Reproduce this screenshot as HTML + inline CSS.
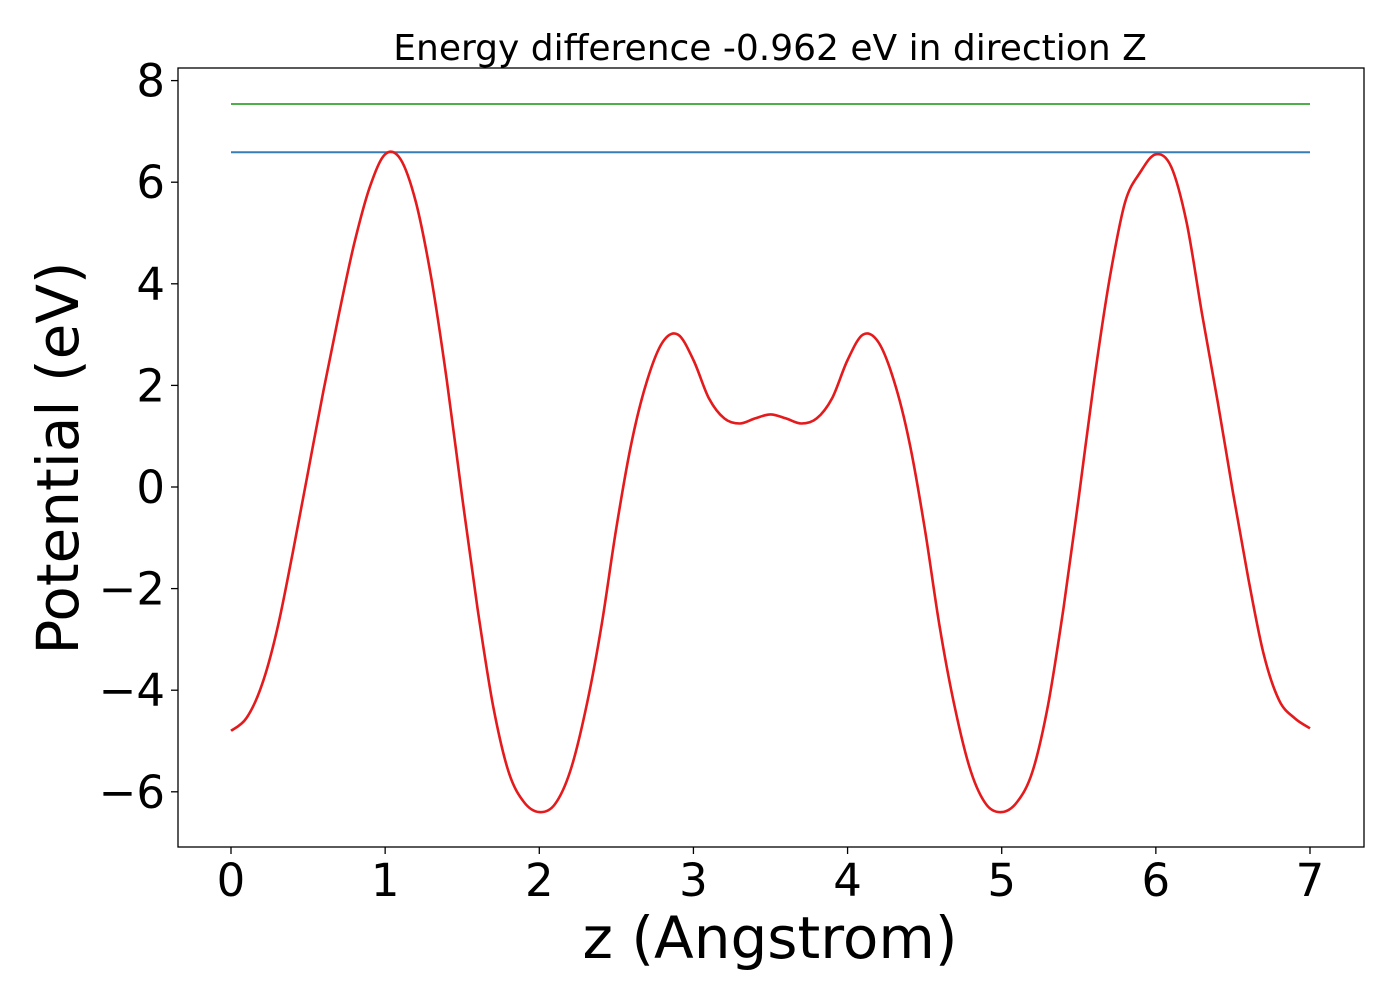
<!DOCTYPE html>
<html><head><meta charset="utf-8"><style>
body{margin:0;background:#fff}
svg text{font-family:"DejaVu Sans","Liberation Sans",sans-serif;fill:#000}
</style></head><body>
<svg id="chart" width="1400" height="1000" xmlns="http://www.w3.org/2000/svg">
<rect width="1400" height="1000" fill="#fff"/>
<text x="770" y="60" font-size="36" text-anchor="middle">Energy difference -0.962 eV in direction Z</text>
<g id="plot"></g>
<rect x="178" y="68" width="1186" height="779" fill="none" stroke="#000" stroke-width="1.3"/>
<text x="770" y="958" font-size="58" text-anchor="middle">z (Angstrom)</text>
<text transform="translate(78,458) rotate(-90)" font-size="58" text-anchor="middle">Potential (eV)</text>
</svg>
<script>
const xTicks=[0,1,2,3,4,5,6,7];
const yTicks=[-6,-4,-2,0,2,4,6,8];
const zStart=0, zStep=0.1;
const potential=[-4.8,-4.55,-3.9,-2.8,-1.3,0.3,1.9,3.4,4.8,5.9,6.55,6.45,5.6,4.1,2.1,-0.2,-2.4,-4.3,-5.6,-6.2,-6.4,-6.25,-5.6,-4.4,-2.8,-0.8,0.9,2.1,2.85,3.0,2.5,1.75,1.35,1.25,1.35,1.43,
1.35,1.25,1.35,1.75,2.5,3.0,2.85,2.1,0.9,-0.8,-2.8,-4.4,-5.6,-6.25,-6.4,-6.2,-5.6,-4.3,-2.4,-0.2,2.1,4.1,5.6,6.2,6.55,6.3,5.2,3.4,1.7,-0.1,-1.8,-3.3,-4.2,-4.55,-4.75];
const levelBlue=6.59, levelGreen=7.54;
const xMin=0,xMax=7;
const sx=v=>231+(v-0)*(1310-231)/7;
const sy=v=>487-v*50.8;
const NS="http://www.w3.org/2000/svg";
const g=document.getElementById('plot');
function mk(t,a){const e=document.createElementNS(NS,t);for(const k in a)e.setAttribute(k,a[k]);g.appendChild(e);return e;}
xTicks.forEach(t=>{
  const l=mk('line',{x1:sx(t),x2:sx(t),y1:847,y2:854,stroke:'#000','stroke-width':1.3});
  
  
  const tx=mk('text',{x:sx(t),y:896,'font-size':45,'text-anchor':'middle'});
  tx.textContent=String(t);
  
  
});
yTicks.forEach(t=>{
  const l=mk('line',{x1:171,x2:178,y1:sy(t),y2:sy(t),stroke:'#000','stroke-width':1.3});
  
  
  const tx=mk('text',{x:165,y:sy(t)+16,'font-size':45,'text-anchor':'end'});
  tx.textContent=t<0?'\u2212'+Math.abs(t):String(t);
  
  
});
const gl=mk('line',{x1:sx(xMin),x2:sx(xMax),y1:sy(levelGreen),y2:sy(levelGreen),stroke:'#4daf4a','stroke-width':2});


const bl=mk('line',{x1:sx(xMin),x2:sx(xMax),y1:sy(levelBlue),y2:sy(levelBlue),stroke:'#377eb8','stroke-width':2});


const P=potential.map((v,i)=>[sx(zStart+i*zStep),sy(v)]);
let d='M'+P[0][0].toFixed(1)+','+P[0][1].toFixed(1);
for(let i=0;i<P.length-1;i++){
  const p0=P[Math.max(0,i-1)],p1=P[i],p2=P[i+1],p3=P[Math.min(P.length-1,i+2)];
  const c1=[p1[0]+(p2[0]-p0[0])/6,p1[1]+(p2[1]-p0[1])/6];
  const c2=[p2[0]-(p3[0]-p1[0])/6,p2[1]-(p3[1]-p1[1])/6];
  d+=' C'+c1[0].toFixed(1)+','+c1[1].toFixed(1)+' '+c2[0].toFixed(1)+','+c2[1].toFixed(1)+' '+p2[0].toFixed(1)+','+p2[1].toFixed(1);
}
const pl=mk('path',{d:d,fill:'none',stroke:'#e41a1c','stroke-width':2.6,'stroke-linejoin':'round'});


</script>
</body></html>
